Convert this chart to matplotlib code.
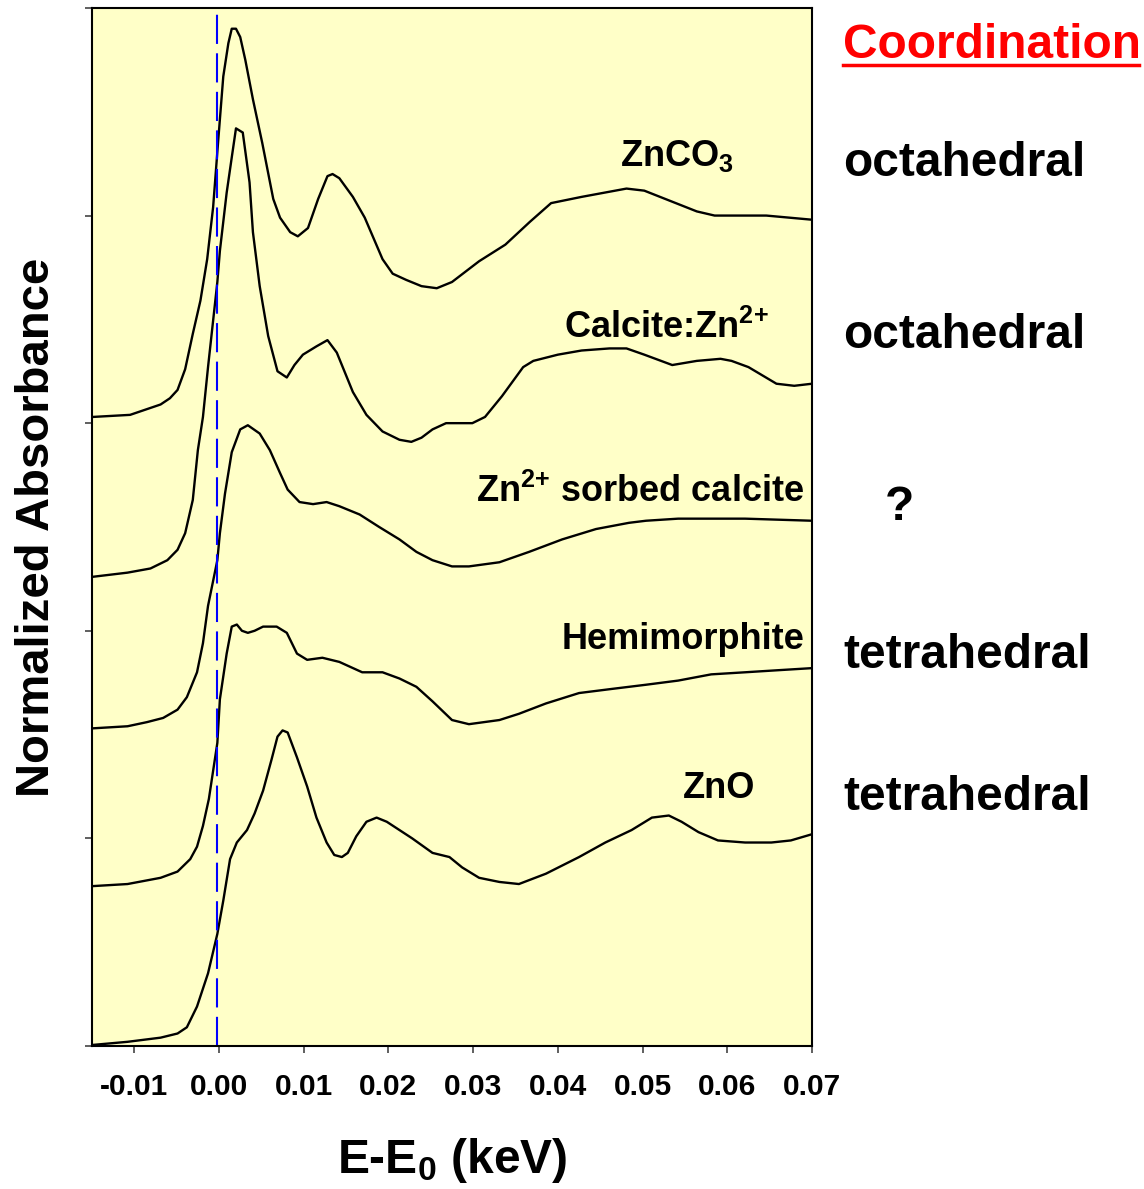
# Zn K-edge XANES spectra of Zn reference compounds, stacked

import matplotlib
matplotlib.use("Agg")
import matplotlib.pyplot as plt
from matplotlib.lines import Line2D

plt.rcParams['font.family'] = ['Liberation Sans', 'DejaVu Sans']
plt.rcParams['font.weight'] = 'bold'
plt.rcParams['axes.unicode_minus'] = False
plt.rcParams['mathtext.fontset'] = 'custom'
plt.rcParams['mathtext.rm'] = 'Liberation Sans:bold'
plt.rcParams['mathtext.it'] = 'Liberation Sans:bold'
plt.rcParams['mathtext.bf'] = 'Liberation Sans:bold'

# Spectra: energy relative to edge (eV), offset normalized absorbance
znco3_e = [-14.9, -10.5, -6.9, -5.8, -4.9, -4.0, -3.1, -2.2, -1.4, -0.7, -0.1, 0.5, 1.1, 1.5,
           2.0, 2.5, 3.1, 4.0, 5.1, 6.4, 7.2, 8.4, 9.3, 10.5, 11.7, 12.8, 13.4, 14.2, 15.8,
           17.2, 19.3, 20.5, 22.1, 23.9, 25.7, 27.5, 30.7, 33.8, 36.7, 39.2, 42.8, 48.1,
           50.2, 56.4, 58.5, 64.6, 70.0]
znco3_a = [3.03, 3.04, 3.09, 3.12, 3.16, 3.26, 3.43, 3.59, 3.79, 4.04, 4.36, 4.67, 4.83, 4.90,
           4.90, 4.86, 4.75, 4.56, 4.35, 4.08, 3.99, 3.92, 3.90, 3.94, 4.08, 4.19, 4.20, 4.18,
           4.09, 3.99, 3.79, 3.72, 3.69, 3.66, 3.65, 3.68, 3.78, 3.86, 3.97, 4.06, 4.09, 4.13,
           4.12, 4.02, 4.00, 4.00, 3.98]

calcite_e = [-14.9, -10.8, -8.1, -6.1, -4.9, -4.0, -3.1, -2.5, -1.9, -1.3, -0.2, 0.1, 0.9, 1.5,
             2.0, 2.8, 3.6, 4.0, 4.8, 5.8, 6.9, 8.0, 8.9, 9.9, 11.5, 12.8, 13.9, 15.8, 17.4,
             19.3, 21.3, 22.7, 23.9, 25.2, 26.8, 29.9, 31.4, 33.4, 35.9, 37.1, 40.0, 42.8,
             46.1, 48.1, 50.2, 53.5, 56.4, 59.2, 60.5, 62.5, 65.8, 67.9, 70.0]
calcite_a = [2.26, 2.28, 2.30, 2.34, 2.39, 2.47, 2.63, 2.87, 3.03, 3.27, 3.68, 3.83, 4.11, 4.28,
             4.42, 4.40, 4.16, 3.92, 3.66, 3.42, 3.25, 3.22, 3.28, 3.33, 3.37, 3.40, 3.34, 3.15,
             3.04, 2.96, 2.92, 2.91, 2.93, 2.97, 3.00, 3.00, 3.03, 3.13, 3.27, 3.30, 3.33, 3.35,
             3.36, 3.36, 3.33, 3.28, 3.30, 3.31, 3.30, 3.27, 3.19, 3.18, 3.19]

sorbed_e = [-14.9, -10.8, -8.5, -6.6, -4.9, -3.8, -2.6, -1.9, -1.3, -0.2, 0.1, 0.7, 1.5, 2.5,
            3.4, 4.8, 6.0, 7.2, 8.1, 9.5, 11.1, 12.7, 14.2, 16.6, 18.9, 21.3, 23.3, 25.2, 27.5,
            29.5, 33.1, 36.6, 40.5, 44.5, 48.4, 50.4, 54.2, 62.1, 70.0]
sorbed_a = [1.53, 1.54, 1.56, 1.58, 1.62, 1.68, 1.80, 1.94, 2.12, 2.34, 2.47, 2.66, 2.86, 2.97,
            2.99, 2.95, 2.87, 2.76, 2.68, 2.62, 2.61, 2.62, 2.60, 2.56, 2.50, 2.44, 2.38, 2.34,
            2.31, 2.31, 2.33, 2.38, 2.44, 2.49, 2.52, 2.53, 2.54, 2.54, 2.53]

hemi_e = [-14.9, -10.8, -6.9, -4.9, -3.4, -2.6, -1.9, -1.2, -0.2, 0.1, 0.9, 1.5, 2.1, 2.7, 3.4,
          4.2, 5.2, 6.8, 8.0, 9.2, 10.4, 12.2, 14.2, 16.9, 19.3, 21.3, 23.3, 25.2, 27.5, 29.5,
          33.1, 35.4, 38.6, 42.5, 46.4, 50.4, 54.2, 58.1, 62.1, 66.0, 70.0]
hemi_a = [0.77, 0.78, 0.81, 0.84, 0.90, 0.96, 1.06, 1.19, 1.46, 1.67, 1.89, 2.02, 2.03, 2.00,
          1.99, 2.00, 2.02, 2.02, 1.99, 1.89, 1.86, 1.87, 1.85, 1.80, 1.80, 1.77, 1.73, 1.66,
          1.57, 1.55, 1.57, 1.60, 1.65, 1.70, 1.72, 1.74, 1.76, 1.79, 1.80, 1.81, 1.82]

zno_e = [-14.9, -10.8, -6.9, -4.9, -3.8, -2.6, -1.3, -0.2, 0.5, 1.3, 2.1, 3.3, 4.2, 5.2, 6.2,
         6.9, 7.5, 8.1, 9.2, 10.4, 11.5, 12.7, 13.6, 14.5, 15.2, 16.2, 17.4, 18.6, 19.8, 21.3,
         22.8, 25.2, 27.2, 28.7, 30.7, 33.1, 35.4, 38.6, 42.5, 45.6, 48.7, 51.1, 53.1, 54.6,
         56.6, 58.9, 62.1, 65.2, 67.5, 70.0]
zno_a = [0.005, 0.02, 0.04, 0.06, 0.09, 0.19, 0.35, 0.54, 0.70, 0.90, 0.98, 1.04, 1.12, 1.23,
         1.38, 1.49, 1.52, 1.51, 1.39, 1.25, 1.10, 0.98, 0.92, 0.91, 0.93, 1.01, 1.08, 1.10,
         1.08, 1.04, 1.00, 0.93, 0.91, 0.86, 0.81, 0.79, 0.78, 0.83, 0.91, 0.98, 1.04, 1.10,
         1.11, 1.08, 1.03, 0.99, 0.98, 0.98, 0.99, 1.02]

spectra = [(znco3_e, znco3_a), (calcite_e, calcite_a), (sorbed_e, sorbed_a),
           (hemi_e, hemi_a), (zno_e, zno_a)]

# sample labels: text, energy (keV), absorbance, alignment
sample_names = ['ZnCO$_3$', 'Calcite:Zn$^{2{+}}$', 'Zn$^{2{+}}$ sorbed calcite',
                'Hemimorphite', 'ZnO']
name_x = [0.0473, 0.0407, 0.0691, 0.0691, 0.0548]
name_y = [4.24, 3.41, 2.62, 1.91, 1.195]
name_ha = ['left', 'left', 'right', 'right', 'left']

coordination = ['octahedral', 'octahedral', '?', 'tetrahedral', 'tetrahedral']
coord_x = [0.737, 0.737, 0.773, 0.737, 0.737]
coord_y = [0.852, 0.707, 0.563, 0.438, 0.319]

xticks = [-0.01, 0.00, 0.01, 0.02, 0.03, 0.04, 0.05, 0.06, 0.07]
yticks = [0, 1, 2, 3, 4, 5]

fig = plt.figure(figsize=(11.44, 11.89), dpi=100)
ax = fig.add_axes([0.0804, 0.1203, 0.6294, 0.8730])
ax.set_facecolor('#ffffc8')

for e, a in spectra:
    ax.plot([v / 1000 for v in e], a, color='black', lw=1.7,
            solid_joinstyle='round', solid_capstyle='round')

# edge position
ax.axvline(-0.0002, color='#0000ff', lw=1.5, dashes=(14, 4.5))

for name, x, y, ha in zip(sample_names, name_x, name_y, name_ha):
    ax.text(x, y, name, ha=ha, va='baseline', fontsize=26, fontweight='bold')

ax.set_xlim(-0.015, 0.07)
ax.set_ylim(0, 5)
ax.set_xticks(xticks)
ax.set_xticklabels(['%.2f' % t for t in xticks])
ax.set_yticks(yticks)
ax.set_yticklabels([])
ax.tick_params(direction='out', length=5, width=1.2, color='#444444',
               labelsize=21.5, pad=14.5)
for lab in ax.get_xticklabels():
    lab.set_fontweight('bold')
for s in ax.spines.values():
    s.set_linewidth(1.5)

ax.set_xlabel('E-E$_0$ (keV)', fontsize=34.5, fontweight='bold', labelpad=25)
ax.set_ylabel('Normalized Absorbance', fontsize=34, fontweight='bold', labelpad=4)

# coordination column on the right
fig.text(0.737, 0.9512, 'Coordination', color='red', fontsize=34.5, fontweight='bold',
         va='baseline')
fig.add_artist(Line2D([0.737, 0.996], [0.9455, 0.9455], color='red', lw=2.5))
for txt, x, y in zip(coordination, coord_x, coord_y):
    fig.text(x, y, txt, fontsize=34.5, fontweight='bold', va='baseline')

fig.savefig('out.png', dpi=100)
